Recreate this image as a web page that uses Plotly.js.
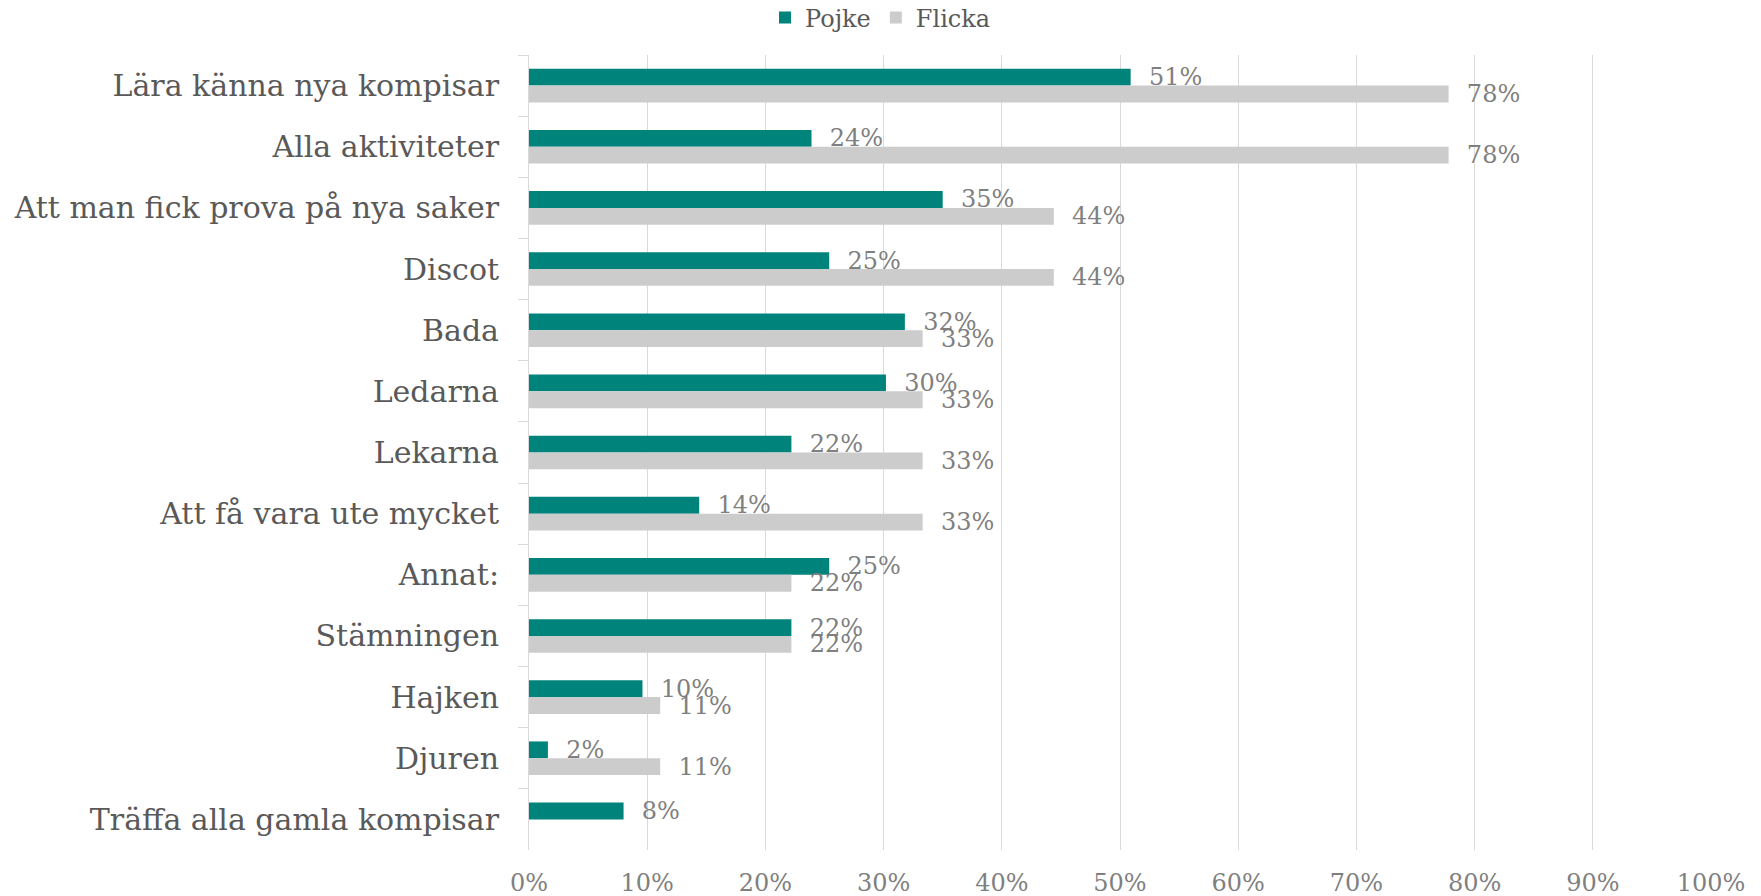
<!DOCTYPE html>
<html>
<head>
<meta charset="utf-8">
<script src="https://cdn.plot.ly/plotly-3.0.1.min.js"></script>
<style>html,body{margin:0;padding:0;background:#fff;}#chart{width:1761px;height:896px;}</style>
</head>
<body>
<div id="chart"></div>
<script>
const categories = [
  "Lära känna nya kompisar",
  "Alla aktiviteter",
  "Att man fick prova på nya saker",
  "Discot",
  "Bada",
  "Ledarna",
  "Lekarna",
  "Att få vara ute mycket",
  "Annat:",
  "Stämningen",
  "Hajken",
  "Djuren",
  "Träffa alla gamla kompisar"
];
const pojke = [0.509, 0.239, 0.350, 0.254, 0.318, 0.302, 0.222, 0.144, 0.254, 0.222, 0.096, 0.016, 0.080];
const flicka = [0.778, 0.778, 0.444, 0.444, 0.333, 0.333, 0.333, 0.333, 0.222, 0.222, 0.111, 0.111, null];
const xTickVals = [0, 0.1, 0.2, 0.3, 0.4, 0.5, 0.6, 0.7, 0.8, 0.9, 1.0];
const xTickText = ["0%", "10%", "20%", "30%", "40%", "50%", "60%", "70%", "80%", "90%", "100%"];

const FONT = "DejaVu Serif, Liberation Serif, serif";

const traces = [
  {
    type: "bar", orientation: "h", name: "Pojke",
    y: categories, x: pojke,
    marker: {color: "#00837A"},
    texttemplate: "  %{x:.0%}", textposition: "outside", cliponaxis: false,
    constraintext: "none",
    textfont: {family: FONT, size: 24, color: "#7F7F7F"},
    hoverinfo: "x+y"
  },
  {
    type: "bar", orientation: "h", name: "Flicka",
    y: categories, x: flicka,
    marker: {color: "#CCCCCC"},
    texttemplate: "  %{x:.0%}", textposition: "outside", cliponaxis: false,
    constraintext: "none",
    textfont: {family: FONT, size: 24, color: "#7F7F7F"},
    hoverinfo: "x+y"
  }
];

const layout = {
  width: 1761, height: 896,
  paper_bgcolor: "#ffffff", plot_bgcolor: "#ffffff",
  margin: {l: 529, r: 50, t: 55, b: 46, autoexpand: false},
  barmode: "group", bargap: 0.45, bargroupgap: 0,
  font: {family: FONT, color: "#595959"},
  showlegend: true,
  legend: {
    orientation: "h", xref: "container", yref: "container",
    x: 0.5, xanchor: "center", y: 0.98, yanchor: "middle",
    font: {family: FONT, size: 24, color: "#595959"},
    itemwidth: 30, traceorder: "normal"
  },
  xaxis: {
    range: [0, 1.0], tickvals: xTickVals, ticktext: xTickText,
    showgrid: true, gridcolor: "#D9D9D9", gridwidth: 1,
    zeroline: false, showline: false, ticks: "",
    ticklabelstandoff: 16, tickangle: 0,
    tickfont: {family: FONT, size: 24, color: "#7F7F7F"},
    automargin: false, fixedrange: true
  },
  yaxis: {
    autorange: "reversed", type: "category",
    showline: true, linecolor: "#D9D9D9", linewidth: 1,
    ticks: "outside", tickson: "boundaries", ticklen: 10, tickcolor: "#D9D9D9",
    showgrid: false, ticklabelstandoff: 23,
    tickfont: {family: FONT, size: 30, color: "#595959"},
    automargin: false, fixedrange: true
  }
};

Plotly.newPlot("chart", traces, layout, {displayModeBar: false, staticPlot: true});
</script>
</body>
</html>
